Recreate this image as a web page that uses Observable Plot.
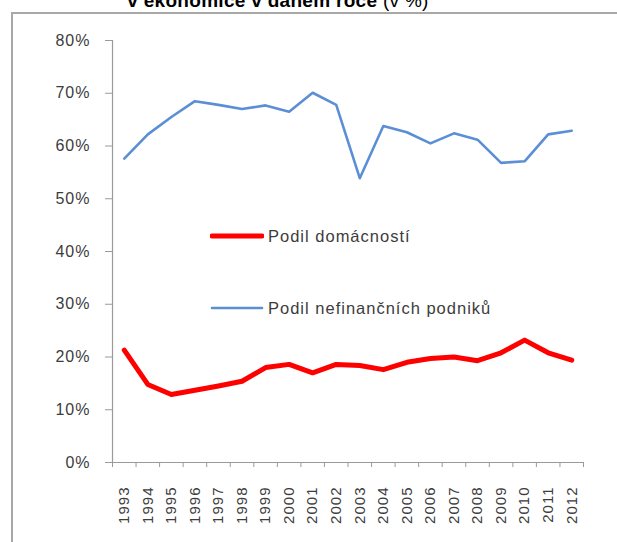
<!DOCTYPE html>
<html>
<head>
<meta charset="utf-8">
<script src="https://cdn.jsdelivr.net/npm/d3@7"></script>
<script src="https://cdn.jsdelivr.net/npm/@observablehq/plot@0.6"></script>
<style>
  html, body { margin: 0; padding: 0; background: #fff; }
  body { width: 617px; height: 542px; position: relative; overflow: hidden; font-family: "Liberation Sans", Arial, sans-serif; }
  #frame { position: absolute; left: 11px; top: 12px; width: 700px; height: 700px; border: 2px solid #a8a8a8; box-sizing: border-box; }
  #title { position: absolute; left: 0; width: 556px; top: -10px; text-align: center; font-size: 19px; color: #000; white-space: nowrap; letter-spacing: 0.3px; }
  #title b { font-weight: bold; }
  #chart { position: absolute; left: 0; top: 0; }
  #chart svg text { letter-spacing: 1px; }
  .leg { position: absolute; display: flex; align-items: center; font-size: 16.5px; color: #3c3c3c; letter-spacing: 1px; white-space: nowrap; }
  .leg .sw { width: 54px; margin-right: 4px; }
</style>
</head>
<body>
<div id="frame"></div>
<div id="title"><b>v ekonomice v daném roce</b> (v %)</div>
<div id="chart"></div>
<div id="legend"></div>
<script>
const years = [1993,1994,1995,1996,1997,1998,1999,2000,2001,2002,2003,2004,2005,2006,2007,2008,2009,2010,2011,2012];
const domacnosti = [21.3,14.8,12.9,13.7,14.5,15.4,18.0,18.6,17.0,18.6,18.4,17.6,19.0,19.7,20.0,19.3,20.8,23.2,20.8,19.4];
const podniky = [57.6,62.2,65.5,68.5,67.8,67.0,67.7,66.5,70.1,67.8,53.9,63.8,62.6,60.5,62.4,61.2,56.8,57.1,62.2,62.9];
const seriesNames = ["Podil domácností", "Podil nefinančních podniků"];
const seriesColors = ["#ff0000", "#5a8fd6"];
const seriesWidths = [5, 2.6];
const yTicks = [0,10,20,30,40,50,60,70,80];

const rows = [];
years.forEach((y, i) => {
  rows.push({year: y, value: domacnosti[i], s: seriesNames[0]});
  rows.push({year: y, value: podniky[i], s: seriesNames[1]});
});
const xMin = d3.min(years) - 0.5, xMax = d3.max(years) + 0.5;
const boundaries = d3.range(xMin, xMax + 0.01, 1);

const axisColor = "#9a9a9a";
const textColor = "#3c3c3c";

const plot = Plot.plot({
  width: 617,
  height: 542,
  marginLeft: 112,
  marginRight: 34,
  marginTop: 40,
  marginBottom: 80,
  style: {fontFamily: "'Liberation Sans', Arial, sans-serif", fontSize: "16px", color: textColor, background: "transparent"},
  x: {type: "linear", domain: [xMin, xMax], axis: null},
  y: {domain: [0, 80], axis: null},
  marks: [
    Plot.axisY(yTicks, {tickSize: 7, tickPadding: 15, stroke: axisColor, tickFormat: d => d + "%", fontSize: 16, fill: textColor, label: null}),
    Plot.axisX(boundaries, {tickSize: 5, stroke: axisColor, tickFormat: () => null, label: null}),
    Plot.axisX(years, {tickSize: 0, tickRotate: -90, tickPadding: 24, tickFormat: d => String(d), fontSize: 15, fill: textColor, label: null}),
    Plot.ruleX([xMin], {stroke: axisColor, strokeWidth: 1.2}),
    Plot.ruleY([0], {stroke: axisColor, strokeWidth: 1.2}),
    Plot.line(rows.filter(d => d.s === seriesNames[1]), {x: "year", y: "value", stroke: seriesColors[1], strokeWidth: seriesWidths[1], strokeLinejoin: "round"}),
    Plot.line(rows.filter(d => d.s === seriesNames[0]), {x: "year", y: "value", stroke: seriesColors[0], strokeWidth: seriesWidths[0], strokeLinejoin: "round", strokeLinecap: "round"})
  ]
});
document.getElementById("chart").appendChild(plot);

const legendPos = [{left: 210, top: 226}, {left: 210, top: 298}];
const legend = document.getElementById("legend");
seriesNames.forEach((name, i) => {
  const div = document.createElement("div");
  div.className = "leg";
  div.style.left = legendPos[i].left + "px";
  div.style.top = legendPos[i].top + "px";
  div.innerHTML = `<svg class="sw" width="54" height="20"><line x1="2" x2="52" y1="10" y2="10" stroke="${seriesColors[i]}" stroke-width="${seriesWidths[i]}" stroke-linecap="round"/></svg><span>${name}</span>`;
  legend.appendChild(div);
});
</script>
</body>
</html>
